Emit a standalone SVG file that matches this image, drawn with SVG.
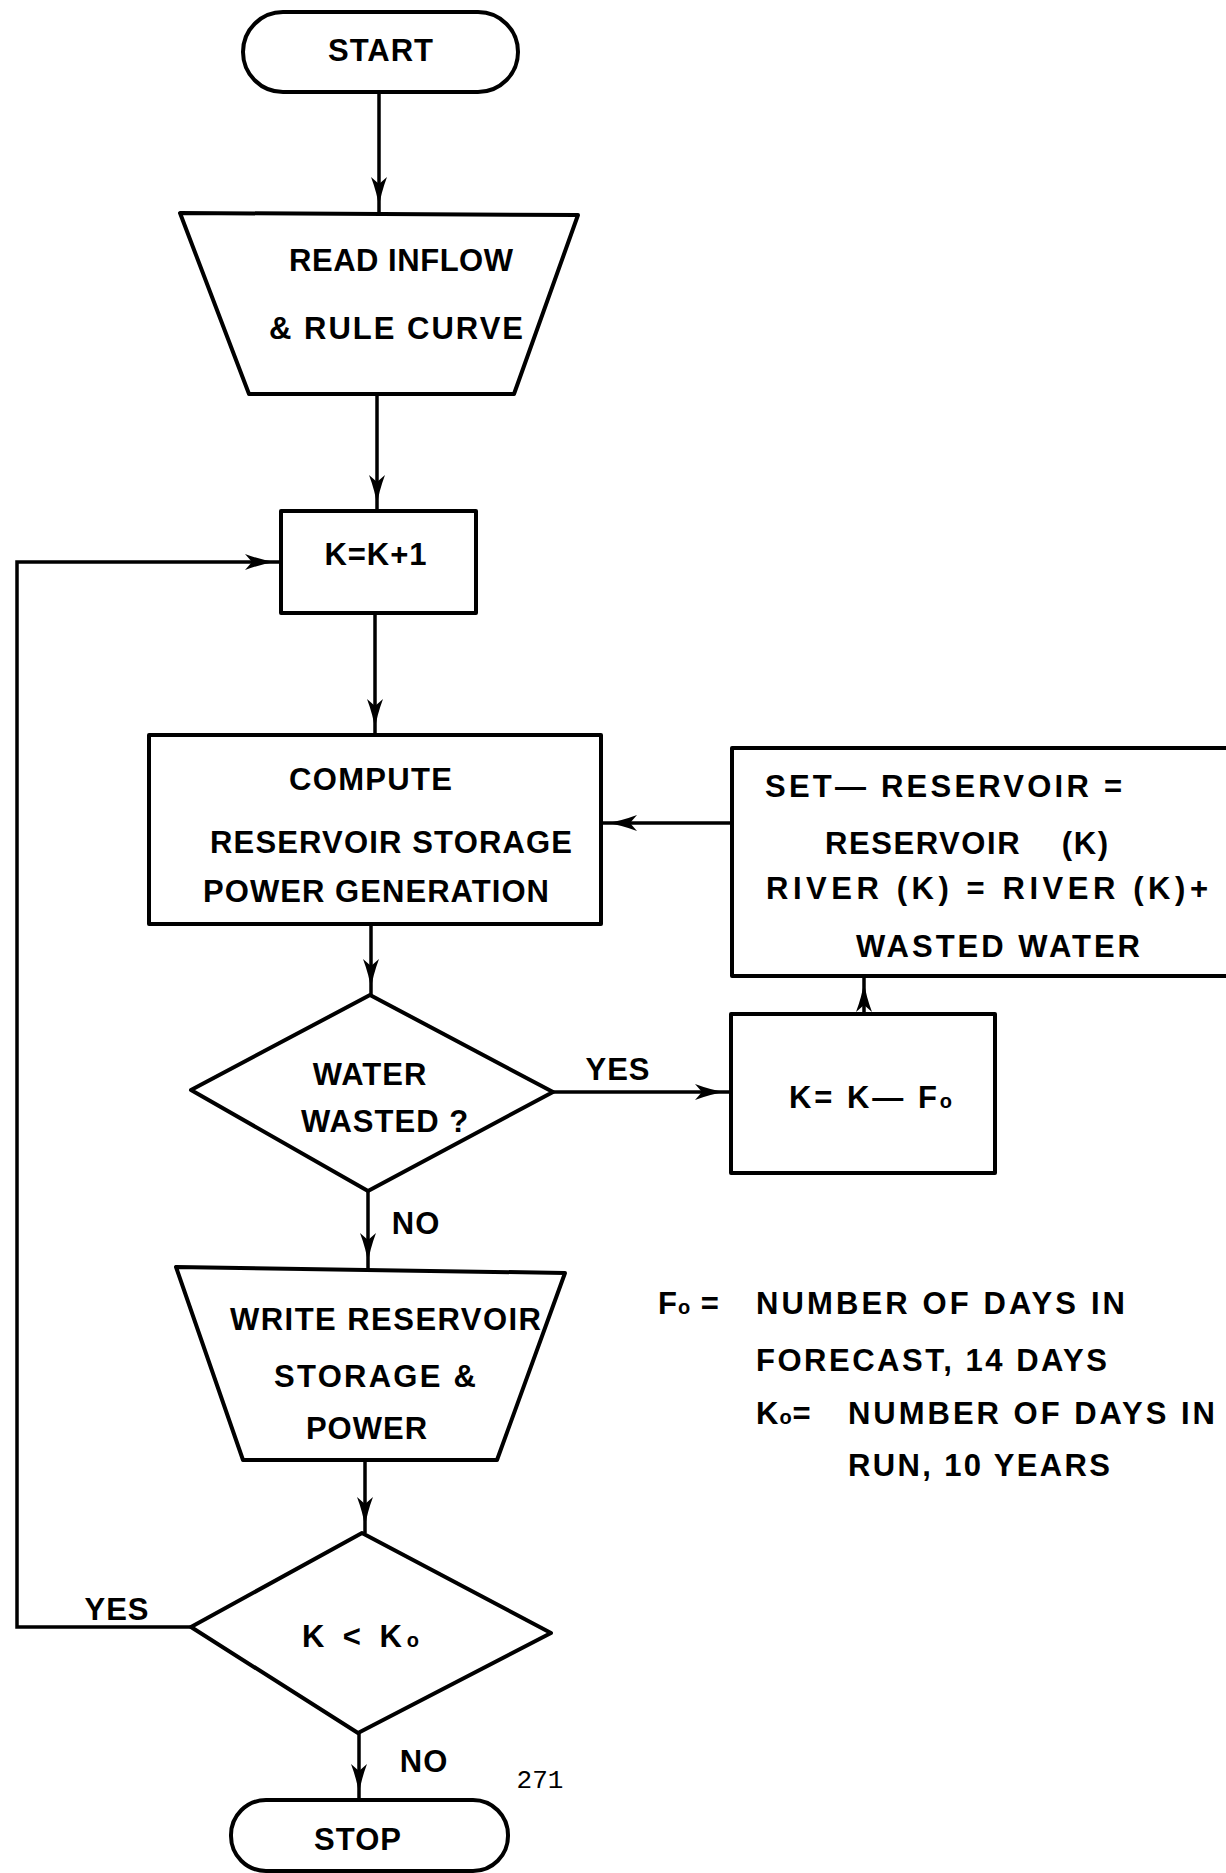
<svg xmlns="http://www.w3.org/2000/svg" width="1226" height="1873" viewBox="0 0 1226 1873">
<style>
.shape{fill:none;stroke:#000;stroke-width:4;stroke-linejoin:round}
.conn{fill:none;stroke:#000;stroke-width:3.5}
.t{font-family:"Liberation Sans",Arial,sans-serif;font-weight:bold;font-size:31px;letter-spacing:1px;fill:#000}
.m{text-anchor:middle}
.pg{font-family:"Liberation Mono","Courier New",monospace;font-size:26px;fill:#000}
</style>
<defs>
<marker id="ah" markerUnits="userSpaceOnUse" viewBox="-40 -10 50 20" markerWidth="50" markerHeight="20" refX="6" refY="0" orient="auto">
<path d="M0,0 Q-14,-2 -30,-8 L-23,0 L-30,8 Q-14,2 0,0 Z" fill="#000"/>
</marker>
</defs>
<rect width="1226" height="1873" fill="#fff"/>
<g id="connectors">
<line class="conn" x1="379" y1="92" x2="379" y2="213" marker-end="url(#ah)"/>
<line class="conn" x1="377" y1="394" x2="377" y2="511" marker-end="url(#ah)"/>
<line class="conn" x1="375" y1="613" x2="375" y2="735" marker-end="url(#ah)"/>
<line class="conn" x1="371" y1="924" x2="371" y2="995" marker-end="url(#ah)"/>
<line class="conn" x1="553" y1="1092" x2="731" y2="1092" marker-end="url(#ah)"/>
<line class="conn" x1="864" y1="1014" x2="864" y2="976" marker-end="url(#ah)"/>
<line class="conn" x1="732" y1="823" x2="601" y2="823" marker-end="url(#ah)"/>
<line class="conn" x1="368" y1="1191" x2="368" y2="1269" marker-end="url(#ah)"/>
<line class="conn" x1="365" y1="1460" x2="365" y2="1533" marker-end="url(#ah)"/>
<line class="conn" x1="359" y1="1733" x2="359" y2="1800" marker-end="url(#ah)"/>
<polyline class="conn" points="191,1627 17,1627 17,562 281,562" marker-end="url(#ah)"/>
</g>
<g id="start">
<rect class="shape" x="243" y="12" width="275" height="80" rx="40"/>
<text class="t m" x="381" y="61">START</text>
</g>
<g id="read">
<polygon class="shape" points="180,213 578,215 514,394 249,394"/>
<text class="t" x="289" y="271" textLength="225" lengthAdjust="spacing">READ INFLOW</text>
<text class="t" x="269" y="339" textLength="255" lengthAdjust="spacing">&amp; RULE CURVE</text>
</g>
<g id="incr">
<rect class="shape" x="281" y="511" width="195" height="102"/>
<text class="t m" x="376" y="565">K=K+1</text>
</g>
<g id="compute">
<rect class="shape" x="149" y="735" width="452" height="189"/>
<text class="t" x="289" y="790" textLength="164" lengthAdjust="spacing">COMPUTE</text>
<text class="t" x="210" y="853" textLength="363" lengthAdjust="spacing">RESERVOIR STORAGE</text>
<text class="t" x="203" y="902" textLength="347" lengthAdjust="spacing">POWER GENERATION</text>
</g>
<g id="set">
<rect class="shape" x="732" y="748" width="520" height="228"/>
<text class="t" x="765" y="797" textLength="358" lengthAdjust="spacing">SET— RESERVOIR =</text>
<text class="t" x="825" y="854" textLength="284" lengthAdjust="spacing" xml:space="preserve">RESERVOIR    (K)</text>
<text class="t" x="766" y="899" textLength="443" lengthAdjust="spacing">RIVER (K) = RIVER (K)+</text>
<text class="t" x="856" y="957" textLength="285" lengthAdjust="spacing">WASTED WATER</text>
</g>
<g id="wasted">
<polygon class="shape" points="370,995 553,1092 368,1191 191,1090"/>
<text class="t m" x="370" y="1085">WATER</text>
<text class="t m" x="385" y="1132">WASTED ?</text>
</g>
<g id="decr">
<rect class="shape" x="731" y="1014" width="264" height="159"/>
<text class="t" x="789" y="1108" textLength="164" lengthAdjust="spacing">K= K— F<tspan font-size="20">o</tspan></text>
</g>
<g id="write">
<polygon class="shape" points="176,1267 565,1273 497,1460 243,1460"/>
<text class="t" x="230" y="1330" textLength="312" lengthAdjust="spacing">WRITE RESERVOIR</text>
<text class="t" x="274" y="1387" textLength="203" lengthAdjust="spacing">STORAGE &amp;</text>
<text class="t m" x="367" y="1439">POWER</text>
</g>
<g id="test">
<polygon class="shape" points="362,1533 551,1633 358,1733 191,1627"/>
<text class="t" x="302" y="1647" textLength="118" lengthAdjust="spacing">K &lt; K<tspan font-size="20">o</tspan></text>
</g>
<g id="stop">
<rect class="shape" x="231" y="1800" width="277" height="71" rx="35"/>
<text class="t m" x="358" y="1850">STOP</text>
</g>
<g id="labels">
<text class="t m" x="618" y="1080">YES</text>
<text class="t m" x="416" y="1234">NO</text>
<text class="t m" x="117" y="1620">YES</text>
<text class="t m" x="424" y="1772">NO</text>
<text class="pg m" x="540" y="1788">271</text>
</g>
<g id="legend">
<text class="t" x="658" y="1314">F<tspan font-size="20">o</tspan> =</text>
<text class="t" x="756" y="1314" textLength="370" lengthAdjust="spacing">NUMBER OF DAYS IN</text>
<text class="t" x="756" y="1371" textLength="352" lengthAdjust="spacing">FORECAST, 14 DAYS</text>
<text class="t" x="756" y="1424">K<tspan font-size="20">o</tspan>=</text>
<text class="t" x="848" y="1424" textLength="368" lengthAdjust="spacing">NUMBER OF DAYS IN</text>
<text class="t" x="848" y="1476" textLength="263" lengthAdjust="spacing">RUN, 10 YEARS</text>
</g>
</svg>
